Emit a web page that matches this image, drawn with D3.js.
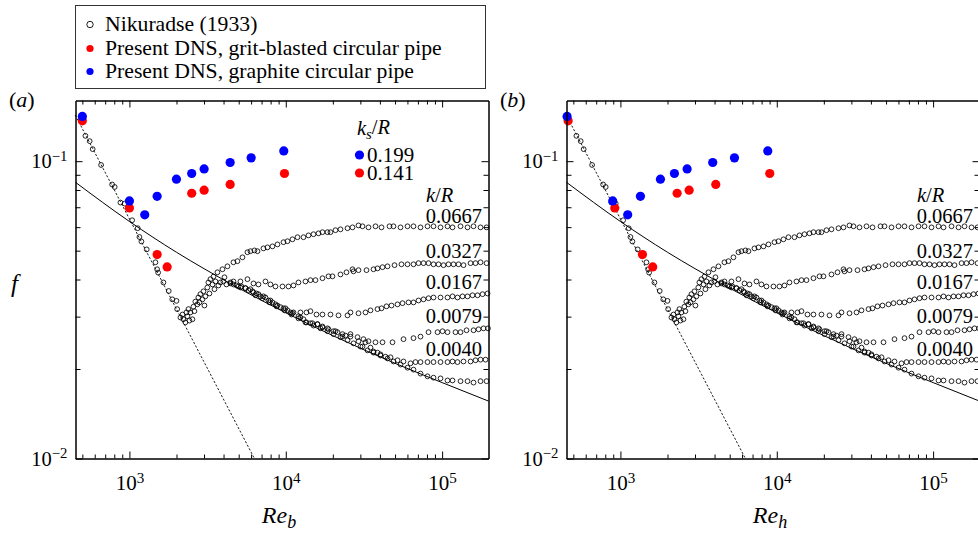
<!DOCTYPE html>
<html><head><meta charset="utf-8">
<script src="https://cdn.jsdelivr.net/npm/d3@7"></script>
<style>
body{margin:0;background:#fff}
svg{display:block}
text{font-family:"Liberation Serif","Times New Roman",serif;fill:#000}
</style>
</head><body>
<svg id="c" width="978" height="534"></svg>
<script>
// ---------------- DATA ----------------
// Nikuradse (1933): [Re, f]
const nikLaminar = [[523,0.1217],[557,0.1168],[582,0.1098],[659,0.0971],[775,0.0835],[805,0.0819],[876,0.0726],[933,0.0720],[1041,0.0633],[1130,0.0595],[1159,0.0556],[1193,0.0537],[1290,0.0505],[1467,0.0457],[1504,0.0433],[1526,0.0422],[1650,0.0391],[1784,0.0366],[1880,0.0343],[2000,0.0339],[2020,0.0318]];
const nikTransition = [[2120,0.0298],[2185,0.0305],[2215,0.0294],[2280,0.0287],[2315,0.0310],[2350,0.0301],[2385,0.0318],[2420,0.0291],[2455,0.0310],[2530,0.0294],[2565,0.0324],[2605,0.0313],[2640,0.0337],[2720,0.0330],[2760,0.0348],[2805,0.0335],[2844,0.0357],[2930,0.0343],[2975,0.0365],[3019,0.0327],[3060,0.0351],[3150,0.0376],[3200,0.0391],[3250,0.0359],[3297,0.0401],[3400,0.0385],[3450,0.0409],[3498,0.0371],[3550,0.0394],[3710,0.0382],[3819,0.0391],[3990,0.0394],[4054,0.0407],[4174,0.0385],[4426,0.0391]];
const nik0667 = [[3656,0.0423],[3936,0.0433],[4236,0.0443],[4628,0.0457],[4909,0.0461],[5284,0.0475],[5689,0.0494],[5945,0.0498],[6305,0.0501],[6592,0.0498],[7200,0.0509],[7636,0.0513],[8222,0.0517],[8850,0.0525],[9667,0.0534],[10254,0.0538],[11037,0.0546],[11882,0.0555],[12978,0.0555],[13972,0.0563],[15041,0.0568],[16191,0.0572],[17170,0.0577],[18487,0.0577],[19320,0.0577],[20797,0.0586],[22387,0.0590],[24818,0.0595],[26720,0.0599],[29186,0.0608],[30953,0.0604],[33815,0.0599],[37490,0.0604],[40963,0.0599],[46073,0.0604],[48873,0.0604],[54190,0.0599],[60067,0.0604],[65615,0.0604],[72743,0.0599],[80643,0.0604],[88105,0.0604],[97679,0.0599],[108270,0.0604],[116540,0.0599],[131160,0.0604],[145390,0.0599],[158800,0.0604],[176080,0.0599],[192350,0.0599]];
const nik0327 = [[4628,0.0394],[5129,0.0394],[5689,0.0401],[6216,0.0388],[6688,0.0385],[7415,0.0394],[7980,0.0385],[8594,0.0379],[9526,0.0379],[10406,0.0379],[11201,0.0382],[12058,0.0391],[13366,0.0394],[14387,0.0398],[15490,0.0398],[17170,0.0404],[18761,0.0410],[19895,0.0410],[22387,0.0416],[24455,0.0423],[26720,0.0433],[27116,0.0426],[29186,0.0430],[32841,0.0430],[36404,0.0433],[38612,0.0436],[41571,0.0440],[44744,0.0443],[49614,0.0447],[54976,0.0450],[60067,0.0450],[65615,0.0450],[70631,0.0454],[76032,0.0454],[81846,0.0454],[88105,0.0450],[94836,0.0450],[102090,0.0447],[109870,0.0450],[118300,0.0450],[127300,0.0450],[137050,0.0447],[152010,0.0454],[163580,0.0454],[176080,0.0457],[192350,0.0454]];
const nik0167 = [[4426,0.0388],[4982,0.0379],[5523,0.0374],[6122,0.0365],[6688,0.0357],[7415,0.0348],[8222,0.0335],[9247,0.0323],[10254,0.0315],[11201,0.0310],[12416,0.0310],[13564,0.0310],[14387,0.0313],[15720,0.0305],[17170,0.0305],[19320,0.0305],[21737,0.0303],[24818,0.0303],[25939,0.0310],[29186,0.0308],[32362,0.0310],[34829,0.0315],[38612,0.0318],[40963,0.0320],[44090,0.0325],[47465,0.0327],[51846,0.0330],[55810,0.0333],[60952,0.0335],[65615,0.0335],[70631,0.0340],[76032,0.0343],[81846,0.0346],[88105,0.0348],[97679,0.0348],[108270,0.0348],[116540,0.0351],[125430,0.0348],[135050,0.0351],[145390,0.0351],[156470,0.0354],[168470,0.0354],[181330,0.0357],[195190,0.0359]];
const nik0079 = [[4628,0.0385],[5208,0.0379],[5945,0.0371],[6494,0.0359],[7200,0.0351],[7980,0.0340],[8850,0.0327],[9956,0.0320],[11037,0.0308],[12416,0.0298],[13366,0.0287],[14821,0.0285],[15952,0.0283],[17170,0.0278],[18761,0.0272],[20797,0.0268],[23060,0.0262],[25939,0.0262],[28758,0.0256],[31413,0.0252],[33815,0.0248],[37490,0.0246],[41571,0.0246],[48169,0.0246],[56624,0.0252],[65615,0.0254],[72743,0.0257],[81846,0.0266],[93450,0.0266],[100600,0.0268],[108270,0.0266],[121790,0.0266],[131160,0.0266],[143260,0.0270],[158800,0.0270],[171020,0.0272],[184030,0.0274],[196500,0.0274]];
const nik0040 = [[4837,0.0382],[5523,0.0374],[6216,0.0362],[6887,0.0351],[7749,0.0340],[8594,0.0330],[9667,0.0320],[10715,0.0310],[12058,0.0301],[12978,0.0294],[14387,0.0285],[15952,0.0283],[17170,0.0276],[18487,0.0274],[20190,0.0268],[21419,0.0266],[23060,0.0257],[24098,0.0259],[25939,0.0257],[29186,0.0248],[30953,0.0238],[32362,0.0246],[34829,0.0236],[36404,0.0229],[38612,0.0227],[40358,0.0224],[43443,0.0220],[46766,0.0219],[51846,0.0214],[56624,0.0212],[62794,0.0209],[67571,0.0211],[72743,0.0211],[80643,0.0211],[88105,0.0211],[97679,0.0211],[108270,0.0211],[116540,0.0212],[125430,0.0211],[137050,0.0212],[152010,0.0212],[163580,0.0214],[176080,0.0215],[189530,0.0215]];
const nik0020 = [[5129,0.0376],[5775,0.0368],[6401,0.0354],[7095,0.0346],[7864,0.0335],[8719,0.0325],[9811,0.0315],[10878,0.0305],[12058,0.0296],[13564,0.0287],[15041,0.0280],[16672,0.0274],[18487,0.0268],[20190,0.0262],[22387,0.0256],[24818,0.0250],[27116,0.0244],[30057,0.0238],[33330,0.0231],[36404,0.0227],[40358,0.0222],[44744,0.0217],[48873,0.0212],[54190,0.0207],[60067,0.0202],[65615,0.0199],[72743,0.0193],[80643,0.0189],[88105,0.0187],[97679,0.0186],[108270,0.0183],[116540,0.0183],[131160,0.0182],[145390,0.0182],[158800,0.0180],[176080,0.0182],[192350,0.0182]];

// Reference lines
const laminarLineRe = [450, 6300];
const laminarLineF  = [0.143, 0.0100];
const smoothLineRe  = [452, 1000, 2000, 3000, 5000, 10000, 20000, 50000, 100000, 198000];
const smoothLineF   = [0.0849, 0.0627, 0.0494, 0.0435, 0.0374, 0.0309, 0.0259, 0.0209, 0.0180, 0.0156];

// Present DNS
const gritF      = [0.1367, 0.0696, 0.0485, 0.0441, 0.0780, 0.0799, 0.0835, 0.0909];
const gritReb    = [500, 1000, 1504, 1743, 2503, 3005, 4409, 9811];
const gritReh    = [463, 920, 1383, 1609, 2305, 2751, 4072, 9021];
const graphiteF  = [0.1414, 0.0735, 0.0660, 0.0762, 0.0870, 0.0909, 0.0942, 0.0990, 0.1026, 0.1083];
const graphiteReb= [500, 1000, 1253, 1504, 1999, 2503, 3005, 4409, 6006, 9710];
const graphiteReh= [456, 893, 1113, 1343, 1803, 2215, 2671, 3894, 5363, 8758];

const roughnessLabels = ["0.0667", "0.0327", "0.0167", "0.0079", "0.0040"];
const ksLabels = ["0.199", "0.141"];
const xMajorTicks = [1e3, 1e4, 1e5];
const xExponents = ["3", "4", "5"];
const yMajorTicks = [0.01, 0.1];
const yExponents = ["\u22122", "\u22121"];
const yMinorTicks = [0.02, 0.03, 0.04, 0.05, 0.06, 0.07, 0.08, 0.09];

const legendItems = ["Nikuradse (1933)", "Present DNS, grit-blasted circular pipe", "Present DNS, graphite circular pipe"];

// ---------------- DRAW ----------------
const svg = d3.select("#c");
const RED = "#ff0000", BLUE = "#0000ff";
const xMinorTicks = [];
for (const d of [100, 1000, 10000, 100000]) for (let m = 2; m <= 9; m++) {
  const v = d * m; if (v >= 452 && v <= 198000) xMinorTicks.push(v);
}
const nikAll = [].concat(nikLaminar, nikTransition, nik0667, nik0327, nik0167, nik0079, nik0040, nik0020);

function supLabel(sel, exps) {
  sel.each(function(d, i) {
    const t = d3.select(this);
    t.text(null);
    t.append("tspan").text("10");
    t.append("tspan").attr("dy", "-0.48em").attr("font-size", "0.72em").text(exps[i]);
  });
}

function panel(ox, opts) {
  const x = d3.scaleLog().domain([452, 198000]).range([ox + 75.5, ox + 488.5]);
  const y = d3.scaleLog().domain([0.01, 0.16]).range([458.5, 100.5]);
  const g = svg.append("g");
  const fontAx = (s) => s.attr("font-family", null).attr("font-size", null);

  // lines
  const line = d3.line().x(d => x(d[0])).y(d => y(d[1]));
  g.append("path").datum(laminarLineRe.map((r, i) => [r, laminarLineF[i]]))
    .attr("d", line).attr("fill", "none").attr("stroke", "#000")
    .attr("stroke-width", 0.9).attr("stroke-dasharray", "2.2,1.8");
  g.append("path").datum(smoothLineRe.map((r, i) => [r, smoothLineF[i]]))
    .attr("d", line.curve(d3.curveMonotoneX)).attr("fill", "none").attr("stroke", "#000")
    .attr("stroke-width", 1);

  // Nikuradse circles
  g.append("g").selectAll("circle").data(nikAll).join("circle")
    .attr("cx", d => x(d[0])).attr("cy", d => y(d[1])).attr("r", 2.4)
    .attr("fill", "none").attr("stroke", "#000").attr("stroke-width", 0.85);

  // DNS
  const gr = opts.gritRe, gp = opts.graphiteRe;
  g.append("g").selectAll("circle").data(gr.map((r, i) => [r, gritF[i]])).join("circle")
    .attr("cx", d => x(d[0])).attr("cy", d => y(d[1])).attr("r", 4.6).attr("fill", RED);
  g.append("g").selectAll("circle").data(gp.map((r, i) => [r, graphiteF[i]])).join("circle")
    .attr("cx", d => x(d[0])).attr("cy", d => y(d[1])).attr("r", 4.6).attr("fill", BLUE);

  // axes
  const axB = g.append("g").attr("transform", `translate(0,${y(0.01)})`)
    .call(d3.axisBottom(x).tickValues(xMajorTicks).tickSizeInner(-7).tickSizeOuter(0).tickPadding(17));
  fontAx(axB); axB.attr("font-size", 21);
  supLabel(axB.selectAll(".tick text"), xExponents);
  g.append("g").attr("transform", `translate(0,${y(0.01)})`)
    .call(d3.axisBottom(x).tickValues(xMinorTicks).tickSizeInner(-4).tickSizeOuter(0).tickFormat(""));
  g.append("g").attr("transform", `translate(0,${y(0.16)})`)
    .call(d3.axisTop(x).tickValues(xMajorTicks).tickSizeInner(-7).tickSizeOuter(0).tickFormat(""));
  g.append("g").attr("transform", `translate(0,${y(0.16)})`)
    .call(d3.axisTop(x).tickValues(xMinorTicks).tickSizeInner(-4).tickSizeOuter(0).tickFormat(""));
  const axL = g.append("g").attr("transform", `translate(${x(452)},0)`)
    .call(d3.axisLeft(y).tickValues(yMajorTicks).tickSizeInner(-7).tickSizeOuter(0).tickPadding(8));
  fontAx(axL); axL.attr("font-size", 20.5);
  supLabel(axL.selectAll(".tick text"), yExponents);
  g.append("g").attr("transform", `translate(${x(452)},0)`)
    .call(d3.axisLeft(y).tickValues(yMinorTicks).tickSizeInner(-5).tickSizeOuter(0).tickFormat(""));
  g.append("g").attr("transform", `translate(${x(198000)},0)`)
    .call(d3.axisRight(y).tickValues(yMajorTicks).tickSizeInner(-7).tickSizeOuter(0).tickFormat(""));
  g.append("g").attr("transform", `translate(${x(198000)},0)`)
    .call(d3.axisRight(y).tickValues(yMinorTicks).tickSizeInner(-5).tickSizeOuter(0).tickFormat(""));
  g.selectAll(".domain, .tick line").attr("stroke", "#000").attr("stroke-width", 1);

  // x label
  const xl = g.append("text").attr("x", ox + 279).attr("y", 523).attr("text-anchor", "middle")
    .attr("font-size", 24).attr("font-style", "italic");
  xl.append("tspan").text("Re");
  xl.append("tspan").attr("dy", "0.3em").attr("font-size", "0.75em").text(opts.sub);

  // panel letter
  const pl = g.append("text").attr("x", ox + 9).attr("y", 107).attr("font-size", 22);
  pl.append("tspan").text("(");
  pl.append("tspan").attr("font-style", "italic").text(opts.letter);
  pl.append("tspan").text(")");

  // k/R labels
  const kx = ox + 426;
  const kr = g.append("text").attr("x", kx).attr("y", 202).attr("font-size", 20.5).attr("font-style", "italic");
  kr.append("tspan").text("k");
  kr.append("tspan").attr("font-style", "normal").text("/");
  kr.append("tspan").text("R");
  const labelY = [223, 258, 289, 323, 356];
  roughnessLabels.forEach((s, i) => {
    g.append("text").attr("x", ox + 482).attr("y", labelY[i]).attr("text-anchor", "end")
      .attr("font-size", 20.5).text(s);
  });

  if (opts.ks) {
    const t = g.append("text").attr("x", ox + 357).attr("y", 135).attr("font-size", 20.5).attr("font-style", "italic");
    t.append("tspan").text("k");
    t.append("tspan").attr("dy", "0.25em").attr("font-size", "0.72em").text("s");
    t.append("tspan").attr("dy", "-0.25em").attr("font-style", "normal").text("/");
    t.append("tspan").text("R");
    const cols = [BLUE, RED], ys = [155, 173];
    ksLabels.forEach((s, i) => {
      g.append("circle").attr("cx", ox + 359.5).attr("cy", ys[i]).attr("r", 4.6).attr("fill", cols[i]);
      g.append("text").attr("x", ox + 367).attr("y", ys[i] + 6.5).attr("font-size", 21).text(s);
    });
  }
  if (opts.f) {
    g.append("text").attr("x", ox + 11).attr("y", 292).attr("font-size", 25)
      .attr("font-style", "italic").text("f");
  }
}

panel(0, {gritRe: gritReb, graphiteRe: graphiteReb, sub: "b", letter: "a", ks: true, f: true});
panel(491, {gritRe: gritReh, graphiteRe: graphiteReh, sub: "h", letter: "b", ks: false, f: false});

// legend
const lg = svg.append("g");
lg.append("rect").attr("x", 75.5).attr("y", 5.5).attr("width", 410).attr("height", 83)
  .attr("fill", "#fff").attr("stroke", "#333").attr("stroke-width", 1);
const lyBase = [31, 55, 78];
legendItems.forEach((s, i) => {
  const cy = lyBase[i] - 6.5;
  if (i === 0) lg.append("circle").attr("cx", 90).attr("cy", cy).attr("r", 3.2)
    .attr("fill", "none").attr("stroke", "#000").attr("stroke-width", 0.9);
  else lg.append("circle").attr("cx", 90).attr("cy", cy).attr("r", 3.6).attr("fill", i === 1 ? RED : BLUE);
  lg.append("text").attr("x", 105).attr("y", lyBase[i]).attr("font-size", 21.7).text(s);
});
</script>
</body></html>
